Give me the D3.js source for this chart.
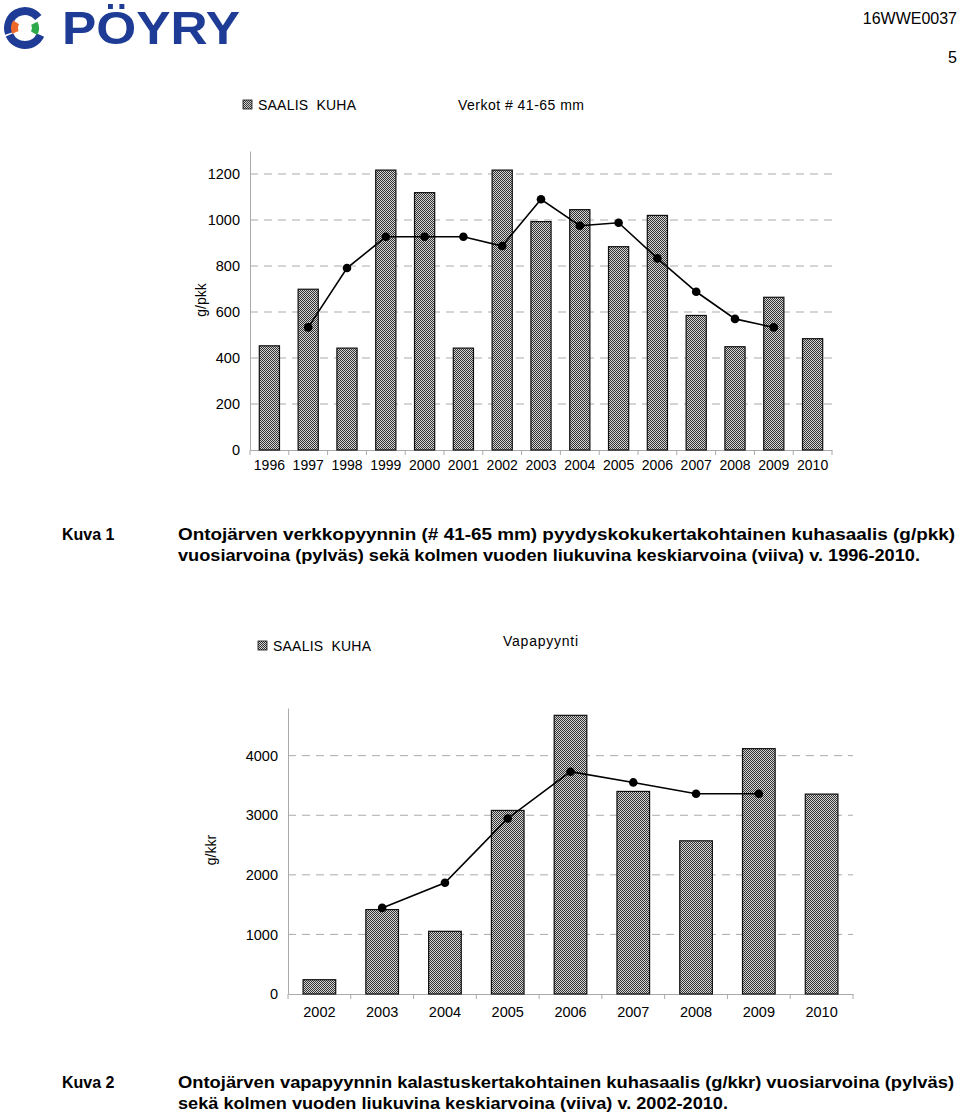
<!DOCTYPE html>
<html><head><meta charset="utf-8">
<script src="https://cdn.jsdelivr.net/npm/d3@7"></script>
<style>
body{margin:0;background:#fff;}
svg{display:block;font-family:"Liberation Sans",Arial,Helvetica,sans-serif;}
</style></head>
<body>
<svg id="c" width="960" height="1115"></svg>
<script>
// ---- data ----
const years1 = ["1996","1997","1998","1999","2000","2001","2002","2003","2004","2005","2006","2007","2008","2009","2010"];
const catch1 = [453,699,443,1217,1119,443,1217,993,1045,884,1020,585,449,664,484];
const avgYears1 = ["1997","1998","1999","2000","2001","2002","2003","2004","2005","2006","2007","2008","2009"];
const avg1 = [533,791,927,927,927,887,1090,975,988,833,688,570,533];
const ticks1 = [0,200,400,600,800,1000,1200];

const years2 = ["2002","2003","2004","2005","2006","2007","2008","2009","2010"];
const catch2 = [240,1417,1052,3081,4677,3400,2571,4118,3355];
const avgYears2 = ["2003","2004","2005","2006","2007","2008","2009"];
const avg2 = [1445,1866,2946,3731,3551,3361,3361];
const ticks2 = [0,1000,2000,3000,4000];

const svg = d3.select("#c");
const defs = svg.append("defs");
const pat = defs.append("pattern").attr("id","chk").attr("width",2).attr("height",2).attr("patternUnits","userSpaceOnUse");
pat.append("rect").attr("width",2).attr("height",2).attr("fill","#d4d4d4");
pat.append("rect").attr("width",1).attr("height",1).attr("fill","#333");
pat.append("rect").attr("x",1).attr("y",1).attr("width",1).attr("height",1).attr("fill","#333");

// ---- header ----
const arcG = d3.arc();
const logo = svg.append("g").attr("transform","translate(25,28)");
logo.append("path").attr("d", arcG({innerRadius:13,outerRadius:21,startAngle:0.9,endAngle:-1.9})).attr("fill","#1e3c96");
logo.append("path").attr("d", arcG({innerRadius:13,outerRadius:21,startAngle:2.0,endAngle:4.3})).attr("fill","#1e3c96");
logo.append("path").attr("d", arcG({innerRadius:7,outerRadius:14,startAngle:-2.0,endAngle:-1.0})).attr("fill","#ee6a2a");
logo.append("path").attr("d", arcG({innerRadius:7,outerRadius:14,startAngle:1.1,endAngle:2.1})).attr("fill","#2eaa4a");
svg.append("text").attr("x",62).attr("y",44).attr("font-size",46).attr("font-weight","bold")
  .attr("fill","#1e3c96").attr("textLength",178).attr("lengthAdjust","spacingAndGlyphs").text("PÖYRY");
svg.append("text").attr("x",957).attr("y",24).attr("text-anchor","end").attr("font-size",16).text("16WWE0037");
svg.append("text").attr("x",957).attr("y",63).attr("text-anchor","end").attr("font-size",16).text("5");

// ---- chart builder ----
function chart(o){
  const g = svg.append("g");
  const x = d3.scaleBand().domain(o.years).range([o.x0,o.x1]).paddingInner(0.48).paddingOuter(0.24);
  const xEdge = d3.scaleBand().domain(o.years).range([o.x0,o.x1]);
  const y = d3.scaleLinear().domain([0,o.ymax]).range([o.y0,o.yTop]);
  g.selectAll(".grid").data(o.ticks.filter(d=>d>0)).join("line")
    .attr("x1",o.x0).attr("x2",o.x1).attr("y1",d=>y(d)).attr("y2",d=>y(d))
    .attr("stroke","#aaa").attr("stroke-width",1).attr("stroke-dasharray","8,6");
  const ya = g.append("g").attr("transform",`translate(${o.x0},0)`)
    .call(d3.axisLeft(y).tickValues(o.ticks).tickSize(0).tickPadding(o.tickPad).tickFormat(d3.format("d")));
  ya.select(".domain").attr("stroke","#aaa");
  ya.selectAll("text").attr("font-size",14.5).attr("fill","#000").attr("font-family","Liberation Sans, Arial, sans-serif");
  const xa = g.append("g").attr("transform",`translate(0,${o.y0})`)
    .call(d3.axisBottom(xEdge).tickSize(0).tickPadding(o.xPad));
  xa.select(".domain").attr("stroke","#aaa");
  xa.selectAll("text").attr("font-size",o.xFont).attr("fill","#000").attr("font-family","Liberation Sans, Arial, sans-serif");
  g.selectAll(".bt").data(o.years.concat(["__end"])).join("line")
    .attr("x1",(d,i)=> i<o.years.length? xEdge(d) : o.x1).attr("x2",(d,i)=> i<o.years.length? xEdge(d) : o.x1)
    .attr("y1",o.y0).attr("y2",o.y0+5).attr("stroke","#aaa");
  g.selectAll(".bar").data(o.years.map((k,i)=>({k,v:o.vals[i]}))).join("rect")
    .attr("x",d=>x(d.k)).attr("width",x.bandwidth())
    .attr("y",d=>y(d.v)).attr("height",d=>o.y0-y(d.v))
    .attr("fill","url(#chk)").attr("stroke","#111").attr("stroke-width",1.2);
  const pts = o.avgYears.map((k,i)=>[xEdge(k)+xEdge.bandwidth()/2, y(o.avg[i])]);
  g.append("path").attr("d",d3.line()(pts)).attr("fill","none").attr("stroke","#000").attr("stroke-width",1.6);
  g.selectAll(".pt").data(pts).join("circle").attr("cx",d=>d[0]).attr("cy",d=>d[1]).attr("r",4.3).attr("fill","#000");
  g.append("text").attr("transform",`translate(${o.ylx},${o.yly}) rotate(-90)`).attr("text-anchor","middle")
    .attr("font-size",14).text(o.ylabel);
  g.append("rect").attr("x",o.lgx).attr("y",o.lgy-10).attr("width",9).attr("height",9).attr("fill","url(#chk)").attr("stroke","#111").attr("stroke-width",0.8);
  g.append("text").attr("x",o.lgx+15).attr("y",o.lgy).attr("font-size",14).attr("xml:space","preserve")
    .attr("textLength",98).attr("lengthAdjust","spacing").text("SAALIS  KUHA");
  g.append("text").attr("x",o.ttx).attr("y",o.tty).attr("font-size",14)
    .attr("textLength",o.ttw).attr("lengthAdjust","spacing").text(o.title);
}

chart({years:years1, vals:catch1, avgYears:avgYears1, avg:avg1, ticks:ticks1, ymax:1300,
  x0:250, x1:832, y0:450, yTop:151, tickPad:10, xPad:10, xFont:14,
  ylabel:"g/pkk", ylx:206, yly:300, lgx:243, lgy:110, title:"Verkot # 41-65 mm", ttx:458, tty:110, ttw:126});

chart({years:years2, vals:catch2, avgYears:avgYears2, avg:avg2, ticks:ticks2, ymax:4800,
  x0:288, x1:853, y0:994, yTop:708, tickPad:10, xPad:13, xFont:14.5,
  ylabel:"g/kkr", ylx:216, yly:850, lgx:258, lgy:651, title:"Vapapyynti", ttx:503, tty:646, ttw:75});

// ---- captions ----
function caption(label, y1, l1, w1, l2, w2){
  svg.append("text").attr("x",62).attr("y",y1).attr("font-size",16).attr("font-weight","bold").text(label);
  svg.append("text").attr("x",178).attr("y",y1).attr("font-size",17).attr("font-weight","bold")
    .attr("textLength",w1).attr("lengthAdjust","spacingAndGlyphs").text(l1);
  svg.append("text").attr("x",178).attr("y",y1+21).attr("font-size",17).attr("font-weight","bold")
    .attr("textLength",w2).attr("lengthAdjust","spacingAndGlyphs").text(l2);
}
caption("Kuva 1", 540, "Ontojärven verkkopyynnin (# 41-65 mm) pyydyskokukertakohtainen kuhasaalis (g/pkk)", 777,
  "vuosiarvoina (pylväs) sekä kolmen vuoden liukuvina keskiarvoina (viiva) v. 1996-2010.", 742);
caption("Kuva 2", 1088, "Ontojärven vapapyynnin kalastuskertakohtainen kuhasaalis (g/kkr) vuosiarvoina (pylväs)", 776,
  "sekä kolmen vuoden liukuvina keskiarvoina (viiva) v. 2002-2010.", 550);
</script>
</body></html>
